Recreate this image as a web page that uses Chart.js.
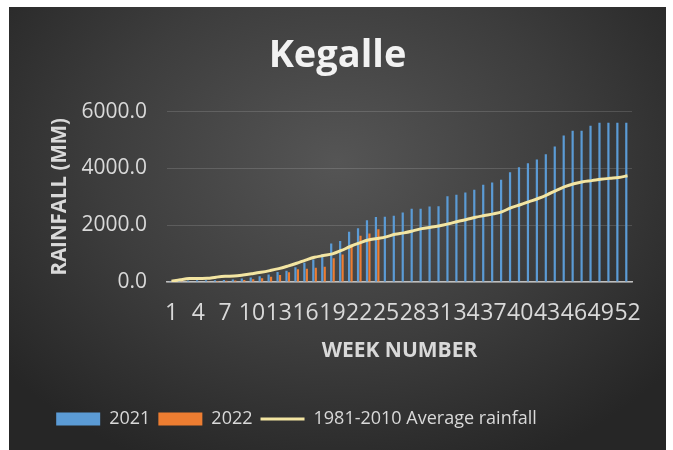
<!DOCTYPE html>
<html>
<head>
<meta charset="utf-8">
<script src="https://cdn.jsdelivr.net/npm/chart.js@4/dist/chart.umd.min.js"></script>
<style>
  body { margin: 0; background: #ffffff; }
  #chartBox {
    position: absolute;
    left: 9px;
    top: 7px;
    width: 657px;
    height: 443px;
    background: radial-gradient(ellipse 65% 75% at 50% 35%, #555555 0%, #3d3d3d 55%, #262626 100%);
  }
</style>
</head>
<body>
<div id="chartBox"><canvas id="rainChart"></canvas></div>
<script>
const weeks = ['1', '2', '3', '4', '5', '6', '7', '8', '9', '10', '11', '12', '13',
  '14', '15', '16', '17', '18', '19', '20', '21', '22', '23', '24', '25', '26',
  '27', '28', '29', '30', '31', '32', '33', '34', '35', '36', '37', '38', '39',
  '40', '41', '42', '43', '44', '45', '46', '47', '48', '49', '50', '51', '52'];

// cumulative weekly rainfall (mm)
const rain2021 = [10, 40, 55, 60, 60, 65, 70, 85, 125, 155, 205, 260, 350,
  400, 520, 680, 790, 980, 1360, 1445, 1770, 1890, 2175, 2290, 2295, 2330,
  2450, 2580, 2580, 2660, 2665, 3020, 3070, 3150, 3245, 3420, 3500, 3600, 3865,
  4040, 4180, 4310, 4500, 4770, 5155, 5330, 5330, 5505, 5610, 5610, 5610, 5610];

const rain2022 = [5, 10, 15, 20, 25, 35, 45, 55, 70, 95, 130, 185, 245,
  340, 445, 470, 500, 540, 840, 970, 1320, 1625, 1710, 1860];

const avgRain = [30, 80, 120, 125, 130, 170, 200, 210, 245, 290, 340, 400, 470,
  560, 660, 770, 870, 930, 990, 1110, 1250, 1370, 1480, 1530, 1590, 1680,
  1730, 1800, 1880, 1930, 1980, 2050, 2130, 2200, 2280, 2340, 2400, 2480, 2620,
  2720, 2830, 2940, 3070, 3220, 3360, 3460, 3530, 3570, 3615, 3650, 3680, 3740];

const yTicks = [0, 2000, 4000, 6000];

const textColor = '#d9d9d9';
const blue = '#5b9bd5';
const orange = '#ed7d31';
const cream = '#f3e5a2';
const fontName = '"Open Sans", sans-serif';

// title sits centred on the whole panel, legend a bit left of it
const boxShift = {
  id: 'boxShift',
  afterLayout(chart) {
    chart.titleBlock.left += 17;
    chart.titleBlock.right += 17;
    chart.legend.left -= 24;
    chart.legend.right -= 24;
  }
};

function buildChart() {
  return new Chart(document.getElementById('rainChart'), {
    type: 'bar',
    data: {
      labels: weeks,
      datasets: [{
        label: '2021',
        data: rain2021,
        backgroundColor: blue,
        barPercentage: 0.9,
        categoryPercentage: 0.55
      }, {
        label: '2022',
        data: rain2022,
        backgroundColor: orange,
        barPercentage: 0.9,
        categoryPercentage: 0.55
      }, {
        type: 'line',
        label: '1981-2010 Average rainfall',
        data: avgRain,
        borderColor: cream,
        backgroundColor: cream,
        borderWidth: 3,
        pointRadius: 0,
        tension: 0.35,
        order: -1
      }]
    },
    plugins: [boxShift],
    options: {
      responsive: true,
      maintainAspectRatio: false,
      animation: false,
      layout: { padding: { left: 0, right: 34, top: 0, bottom: 12 } },
      plugins: {
        tooltip: { enabled: false },
        title: {
          display: true,
          text: 'Kegalle',
          color: '#f2f2f2',
          font: { family: fontName, size: 38, weight: 'bold' },
          padding: { top: 26, bottom: 33 }
        },
        legend: {
          position: 'bottom',
          labels: {
            color: textColor,
            font: { family: fontName, size: 18 },
            usePointStyle: true,
            pointStyleWidth: 44,
            boxHeight: 13,
            padding: 8,
            sort: (a, b) => a.datasetIndex - b.datasetIndex,
            generateLabels: function (chart) {
              const items = Chart.defaults.plugins.legend.labels.generateLabels(chart);
              items.forEach(function (item) {
                if (item.datasetIndex === 2) {
                  item.pointStyle = 'line';
                  item.strokeStyle = cream;
                  item.lineWidth = 3;
                } else {
                  item.pointStyle = 'rect';
                  item.lineWidth = 0;
                }
              });
              return items;
            }
          }
        }
      },
      scales: {
        x: {
          grid: { display: false, drawTicks: false },
          border: { display: true, color: '#bfbfbf', width: 1.5 },
          ticks: {
            color: textColor,
            font: { family: fontName, size: 23 },
            autoSkip: false,
            maxRotation: 0,
            minRotation: 0,
            padding: 18,
            callback: function (value, index) {
              return index % 3 === 0 ? weeks[index] : '';
            }
          },
          title: {
            display: true,
            text: 'WEEK NUMBER',
            color: textColor,
            font: { family: fontName, size: 21, weight: 'bold' },
            padding: { top: 0, bottom: 38 }
          },
          afterFit: function (scale) { scale.height = 120; }
        },
        y: {
          min: yTicks[0],
          max: yTicks[yTicks.length - 1],
          grid: { color: 'rgba(255,255,255,0.14)', drawTicks: false, lineWidth: 1 },
          border: { display: false },
          afterBuildTicks: function (scale) {
            scale.ticks = yTicks.map(v => ({ value: v }));
          },
          ticks: {
            color: textColor,
            font: { family: fontName, size: 21 },
            padding: 20,
            callback: v => v.toFixed(1)
          },
          title: {
            display: true,
            text: 'RAINFALL (MM)',
            color: textColor,
            font: { family: fontName, size: 20.5, weight: 'bold' },
            padding: { top: 39, bottom: 0 }
          },
          afterFit: function (scale) { scale.width = 158; }
        }
      }
    }
  });
}

buildChart();
</script>
</body>
</html>
